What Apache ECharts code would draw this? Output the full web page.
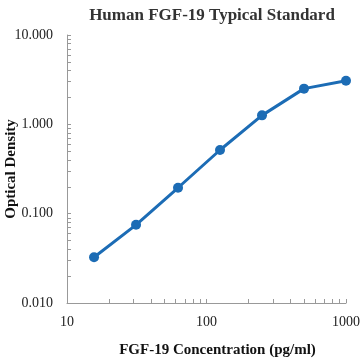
<!DOCTYPE html>
<html><head><meta charset="utf-8">
<script src="https://cdn.jsdelivr.net/npm/echarts@6/dist/echarts.min.js"></script>
<style>html,body{margin:0;padding:0;background:#fff}#c{width:363px;height:361px}</style>
</head><body><div id="c"></div>
<script>
const concentrations = [15.625, 31.25, 62.5, 125, 250, 500, 1000];
const opticalDensity = [0.0325, 0.075, 0.195, 0.516, 1.26, 2.51, 3.08];
const xTickValues = [10, 20, 30, 40, 50, 60, 70, 80, 90, 100, 200, 300, 400, 500, 600, 700, 800, 900, 1000];
const yTickValues = [0.01, 0.02, 0.03, 0.04, 0.05, 0.06, 0.07, 0.08, 0.09, 0.1, 0.2, 0.3, 0.4, 0.5, 0.6, 0.7, 0.8, 0.9, 1, 2, 3, 4, 5, 6, 7, 8, 9, 10];
const title = 'Human FGF-19 Typical Standard';
const xName = 'FGF-19 Concentration (pg/ml)';
const yName = 'Optical Density';

const serif = 'Liberation Serif';
const chart = echarts.init(document.getElementById('c'));
chart.setOption({
  animation: false,
  title: { text: title, left: 207, top: 2, textAlign: 'center',
    textStyle: { fontFamily: serif, fontWeight: 'bold', fontSize: 17, color: '#333' } },
  grid: { left: 67, right: 17, top: 35, bottom: 58, containLabel: false, outerBoundsMode: 'none' },
  xAxis: {
    type: 'log', logBase: 10, min: 10, max: 1000,
    name: xName, nameLocation: 'middle', nameGap: 40, nameMoveOverlap: false,
    nameTextStyle: { fontFamily: serif, fontWeight: 'bold', fontSize: 15, color: '#111', padding: [0, 0, 0, 22] },
    axisLine: { lineStyle: { color: '#999', width: 1 } },
    axisTick: { show: true, inside: true, length: 4, customValues: xTickValues, lineStyle: { color: '#999' } },
    axisLabel: { fontFamily: serif, fontSize: 14, color: '#222', margin: 12, formatter: v => String(v) },
    splitLine: { show: false }
  },
  yAxis: {
    type: 'log', logBase: 10, min: 0.01, max: 10,
    name: yName, nameLocation: 'middle', nameGap: 48, nameMoveOverlap: false,
    nameTextStyle: { fontFamily: serif, fontWeight: 'bold', fontSize: 15, color: '#111' },
    axisLine: { show: true, lineStyle: { color: '#999', width: 1 } },
    axisTick: { show: true, inside: true, length: 4, customValues: yTickValues, lineStyle: { color: '#999' } },
    axisLabel: { fontFamily: serif, fontSize: 14, color: '#222', margin: 14,
      formatter: v => Number(v).toFixed(3) },
    splitLine: { show: false }
  },
  series: [{
    type: 'line',
    data: concentrations.map((c, i) => [c, opticalDensity[i]]),
    lineStyle: { color: '#1c6cb5', width: 3 },
    itemStyle: { color: '#1c6cb5' },
    symbol: 'circle', symbolSize: 10
  }]
});
</script></body></html>
